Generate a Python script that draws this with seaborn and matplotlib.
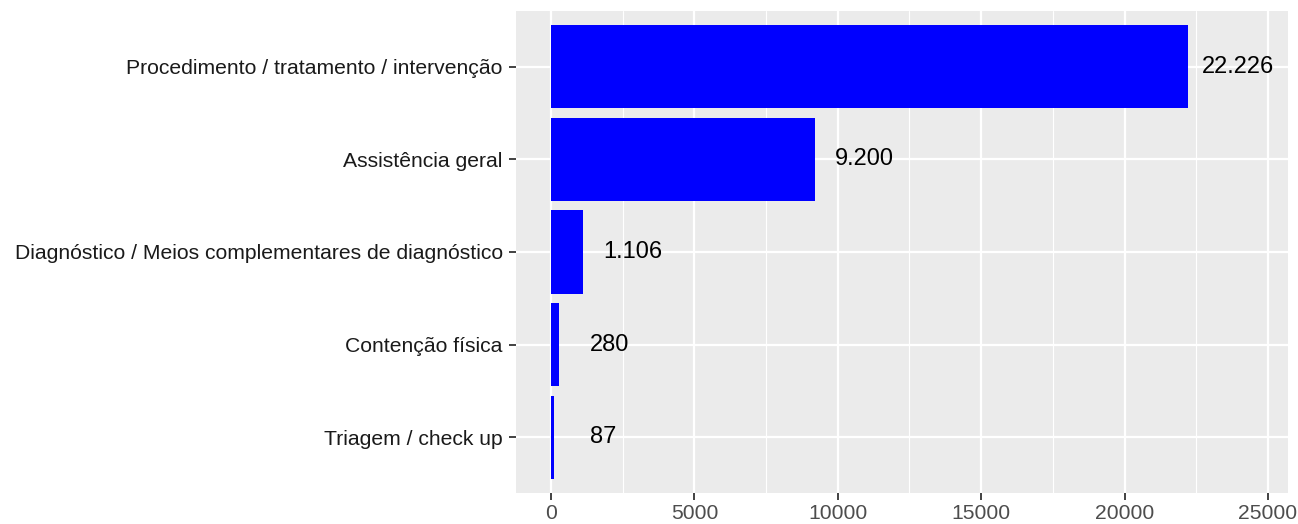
import matplotlib
matplotlib.use("Agg")
import matplotlib.pyplot as plt
import seaborn as sns
import pandas as pd
from matplotlib.ticker import MultipleLocator

# Data
categories = [
    "Procedimento / tratamento / intervenção",
    "Assistência geral",
    "Diagnóstico / Meios complementares de diagnóstico",
    "Contenção física",
    "Triagem / check up",
]
counts = [22226, 9200, 1106, 280, 87]

df = pd.DataFrame({"categoria": categories, "n": counts})

sns.set_theme(style="darkgrid", rc={
    "axes.facecolor": "#EBEBEB",
    "grid.color": "white",
    "axes.edgecolor": "#EBEBEB",
})
plt.rcParams["font.family"] = ["Liberation Sans", "DejaVu Sans"]

fig = plt.figure(figsize=(12.98, 5.24), dpi=100)
ax = fig.add_axes([0.3975, 0.0592, 0.9923 - 0.3975, 0.979 - 0.0592])

sns.barplot(data=df, x="n", y="categoria", orient="h", color="#0000FF",
            saturation=1, width=0.9, linewidth=0, ax=ax)

# value labels, pt-br thousands separator
for i, v in enumerate(counts):
    ax.annotate(f"{v:,}".replace(",", "."), xy=(v, i), xytext=(36, 0),
                textcoords="offset points", ha="center", va="center",
                fontsize=17, color="black")

ax.set_xlim(-1224, 25700)
ax.set_ylim(4.6, -0.6)
ax.xaxis.set_major_locator(MultipleLocator(5000))
ax.xaxis.set_minor_locator(MultipleLocator(2500))
ax.grid(which="major", color="white", linewidth=1.6)
ax.grid(which="minor", axis="x", color="white", linewidth=0.8)
ax.set_axisbelow(True)
for s in ax.spines.values():
    s.set_visible(False)

ax.set_xlabel("")
ax.set_ylabel("")
ax.tick_params(axis="both", which="major", length=5, width=1.3, color="#333333",
               pad=4.5, bottom=True, left=True)
ax.tick_params(axis="both", which="minor", length=0)
ax.tick_params(axis="y", labelsize=15.2, labelcolor="#1A1A1A")
ax.tick_params(axis="x", labelsize=15.2, labelcolor="#4D4D4D", pad=3)

fig.savefig("out.png", dpi=100)
